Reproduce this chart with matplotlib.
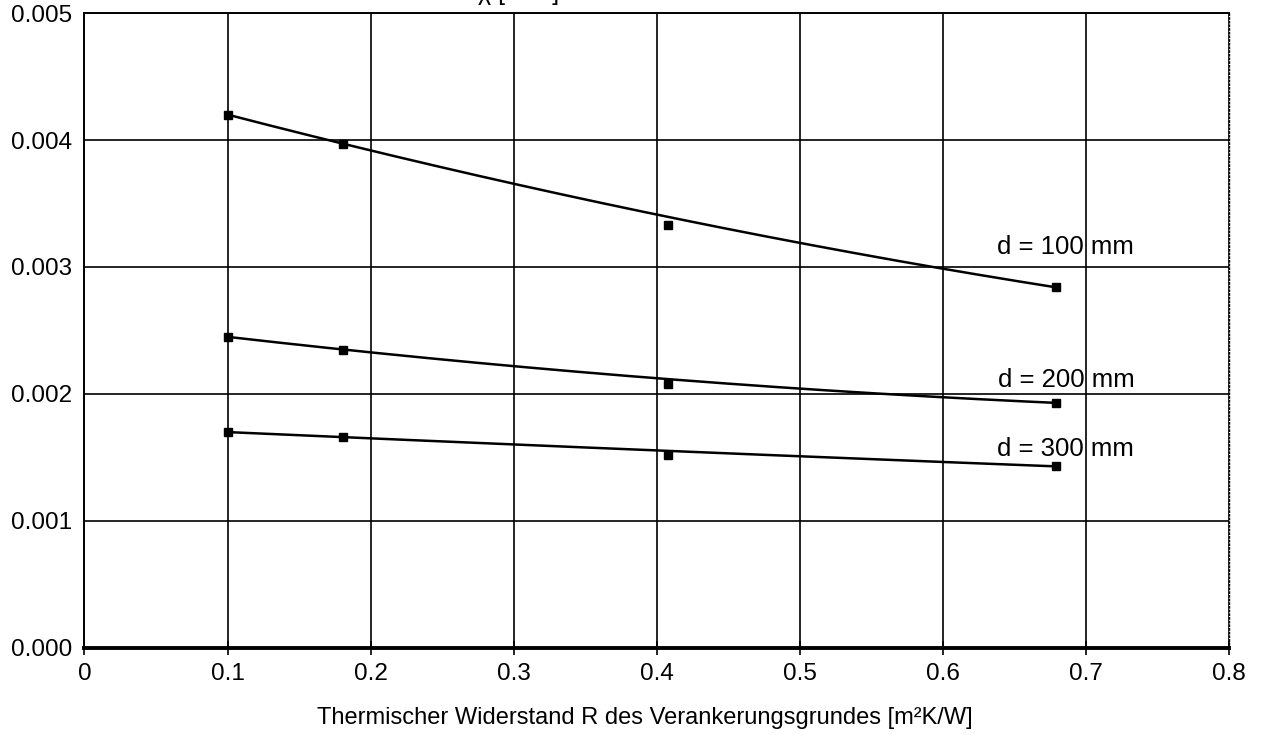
import numpy as np
import matplotlib
matplotlib.use("Agg")
import matplotlib.pyplot as plt

plt.rcParams['font.family'] = ['Liberation Sans', 'DejaVu Sans']

# Data
r_values = [0.1, 0.181, 0.408, 0.679]
chi_100 = [0.00420, 0.00397, 0.00333, 0.00284]
chi_200 = [0.00245, 0.00235, 0.00208, 0.00193]
chi_300 = [0.00170, 0.00166, 0.00152, 0.00143]
labels = ["d = 100 mm", "d = 200 mm", "d = 300 mm"]
label_y = [0.00316, 0.00211, 0.00157]

x_ticks = [0, 0.1, 0.2, 0.3, 0.4, 0.5, 0.6, 0.7, 0.8]
x_ticklabels = ["0", "0.1", "0.2", "0.3", "0.4", "0.5", "0.6", "0.7", "0.8"]
y_ticks = [0.000, 0.001, 0.002, 0.003, 0.004, 0.005]
y_ticklabels = ["0.000", "0.001", "0.002", "0.003", "0.004", "0.005"]

# the curves in the original run through the outer points only
fit_idx = [0, 1, 3]

fig = plt.figure(figsize=(12.61, 7.35), dpi=100)
ax = fig.add_axes([0.067, 0.1184, 0.9076, 0.8639])

# ==============================
# Series with quadratic trendlines
# ==============================
x = np.array(r_values)
xs = np.linspace(min(r_values), max(r_values), 200)
for ys in [chi_100, chi_200, chi_300]:
    ys = np.array(ys)
    coef = np.polyfit(x[fit_idx], ys[fit_idx], 2)
    ax.plot(xs, np.polyval(coef, xs), color='black', lw=1.8, zorder=3)
    ax.plot(x, ys, 's', color='black', ms=6, zorder=4)

# labels (grid lines drawn over them in original)
for lab, yy in zip(labels, label_y):
    ax.text(0.686, yy, lab, ha='center', va='center', fontsize=18.5, zorder=1)

ax.set_xlim(0, 0.8)
ax.set_ylim(0, 0.005)
ax.set_xticks(x_ticks)
ax.set_xticklabels(x_ticklabels)
ax.set_yticks(y_ticks)
ax.set_yticklabels(y_ticklabels)
ax.tick_params(axis='both', labelsize=17.5, color='black')
ax.tick_params(axis='x', pad=6, direction='inout', length=10, width=1.2)
ax.tick_params(axis='y', pad=9, length=0)

ax.grid(True, color='black', lw=1.2, zorder=2)
ax.set_axisbelow(False)
for s in ['left', 'top']:
    ax.spines[s].set_linewidth(1.4)
ax.spines['right'].set_linewidth(1.0)
ax.spines['right'].set_linestyle(':')
ax.spines['bottom'].set_linewidth(2.8)

ax.set_xlabel("Thermischer Widerstand R des Verankerungsgrundes [m²K/W]",
              fontsize=17, labelpad=16, x=0.49)

# title cut off at the top of the picture, only descenders visible
fig.text(0.379, 1.0, "χ [W/K]", fontsize=18, ha='left', va='baseline')

fig.savefig("out.png", dpi=100)
